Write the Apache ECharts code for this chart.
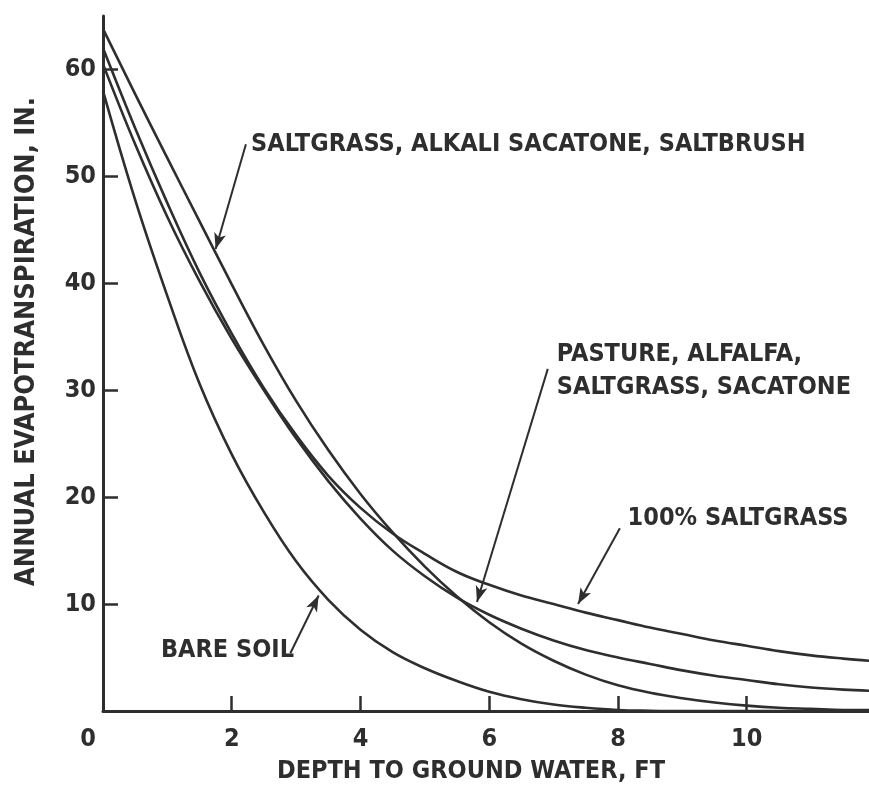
<!DOCTYPE html>
<html>
<head>
<meta charset="utf-8">
<script src="https://cdn.jsdelivr.net/npm/echarts@6/dist/echarts.min.js"></script>
<style>
html,body{margin:0;padding:0;background:#fff;}
#chart{width:869px;height:789px;}
</style>
</head>
<body>
<div id="chart"></div>
<script>
// Depth to ground water (ft)
const depths = [0,0.5,1,1.5,2,2.5,3,3.5,4,4.5,5,5.5,6,6.5,7,7.5,8,8.5,9,9.5,10,10.5,11,11.5,11.9];
// Annual evapotranspiration (in.)
const saltgrassAlkaliSaltbrush = [63.8,57.7,51.7,45.8,39.9,34.2,29.0,24.4,20.3,16.7,13.5,10.7,8.3,6.3,4.7,3.4,2.4,1.7,1.2,0.8,0.5,0.3,0.2,0.1,0.1];
const saltgrass100 = [62.0,54.5,47.5,41.0,35.3,30.2,25.8,22.0,19.0,16.6,14.7,13.0,11.8,10.8,10.0,9.2,8.5,7.8,7.2,6.6,6.1,5.6,5.2,4.9,4.7];
const pastureAlfalfa = [60.5,53.0,46.2,40.2,34.8,30.0,25.5,21.5,18.0,15.0,12.6,10.6,9.0,7.7,6.6,5.7,5.0,4.4,3.8,3.3,2.9,2.5,2.2,2.0,1.9];
const bareSoil = [58.0,47.8,38.8,30.6,24.0,18.6,14.0,10.4,7.6,5.5,4.0,2.8,1.8,1.1,0.6,0.3,0.1,0.03,0,0,0,0,0,0,0];

const xTicks = [0,2,4,6,8,10];
const yTicks = [10,20,30,40,50,60];

// Annotation labels: [x, y, text] (text anchored at its left-middle)
const labelTexts = [
  [2.3, 53.0, 'SALTGRASS, ALKALI SACATONE, SALTBRUSH'],
  [7.05, 31.8, 'PASTURE, ALFALFA,\nSALTGRASS, SACATONE'],
  [8.15, 18.0, '100% SALTGRASS'],
  [0.9, 5.7, 'BARE SOIL']
];
// Arrows: [fromX, fromY, toX, toY]
const arrows = [
  [2.22, 53.0, 1.75, 43.2],
  [6.91, 32.0, 5.81, 10.2],
  [8.03, 17.1, 7.38, 10.0],
  [2.91, 5.4, 3.35, 10.8]
];

const FONT = '"Liberation Sans Narrow", "DejaVu Sans Condensed", "Liberation Sans", sans-serif';
const INK = '#2e2e2e';

function pairs(ys){ return depths.map((x,i)=>[x, ys[i]]); }

function curve(name, ys){
  return {
    name, type:'line', data: pairs(ys), smooth: 0.4, showSymbol:false, symbol:'none',
    lineStyle:{color:INK, width:2.6}, z:3, silent:true
  };
}

const chart = echarts.init(document.getElementById('chart'));
const option = {
  backgroundColor:'#fff',
  animation:false,
  grid:{left:103, right:0, top:16, bottom:76, containLabel:false},
  xAxis:{
    type:'value', min:0, max:11.9, interval:2,
    name:'DEPTH TO GROUND WATER, FT', nameLocation:'middle', nameGap:48,
    nameTextStyle:{fontFamily:FONT, fontWeight:'bold', fontSize:25, color:INK, padding:[0,30,0,0]},
    axisLine:{lineStyle:{color:INK, width:3}},
    axisTick:{inside:true, length:15, lineStyle:{color:INK, width:2.5},
      customValues: xTicks.filter(v=>v>0)},
    axisLabel:{
      customValues: xTicks,
      fontFamily:FONT, fontWeight:'bold', fontSize:25, color:INK, margin:16,
      formatter:(v)=> v===0 ? '{z|0}' : String(v),
      rich:{z:{fontFamily:FONT, fontWeight:'bold', fontSize:25, color:INK, padding:[0,30,0,0]}}
    },
    splitLine:{show:false}
  },
  yAxis:{
    type:'value', min:0, max:65, interval:10,
    name:'ANNUAL EVAPOTRANSPIRATION, IN.', nameLocation:'middle', nameGap:63, nameRotate:90,
    nameTextStyle:{fontFamily:FONT, fontWeight:'bold', fontSize:27, color:INK, padding:[0,0,0,44]},
    axisLine:{lineStyle:{color:INK, width:3}},
    axisTick:{inside:true, length:15, lineStyle:{color:INK, width:2.5}, customValues: yTicks},
    axisLabel:{customValues: yTicks, fontFamily:FONT, fontWeight:'bold', fontSize:25, color:INK, margin:7,
      padding:[5,0,0,0]},
    splitLine:{show:false}
  },
  series:[
    curve('SALTGRASS, ALKALI SACATONE, SALTBRUSH', saltgrassAlkaliSaltbrush),
    curve('100% SALTGRASS', saltgrass100),
    curve('PASTURE, ALFALFA, SALTGRASS, SACATONE', pastureAlfalfa),
    curve('BARE SOIL', bareSoil),
    {
      name:'labels', type:'scatter', symbolSize:0, silent:true, z:5,
      itemStyle:{opacity:1, color:INK},
      data: labelTexts.map(l=>({value:[l[0], l[1]], text:l[2]})),
      label:{show:true, position:'right', distance:0, opacity:1,
        formatter:(p)=>p.data.text,
        fontFamily:FONT, fontWeight:'bold', fontSize:25, color:INK, lineHeight:33, align:'left'}
    },
    {
      name:'arrows', type:'line', data:[], silent:true,
      markLine:{
        silent:true, symbol:['none','arrow'], symbolSize:[9,16],
        label:{show:false},
        lineStyle:{color:INK, width:2, type:'solid', opacity:1},
        data: arrows.map(a=>[{coord:[a[0],a[1]]},{coord:[a[2],a[3]]}])
      }
    }
  ]
};
chart.setOption(option);
</script>
</body>
</html>
